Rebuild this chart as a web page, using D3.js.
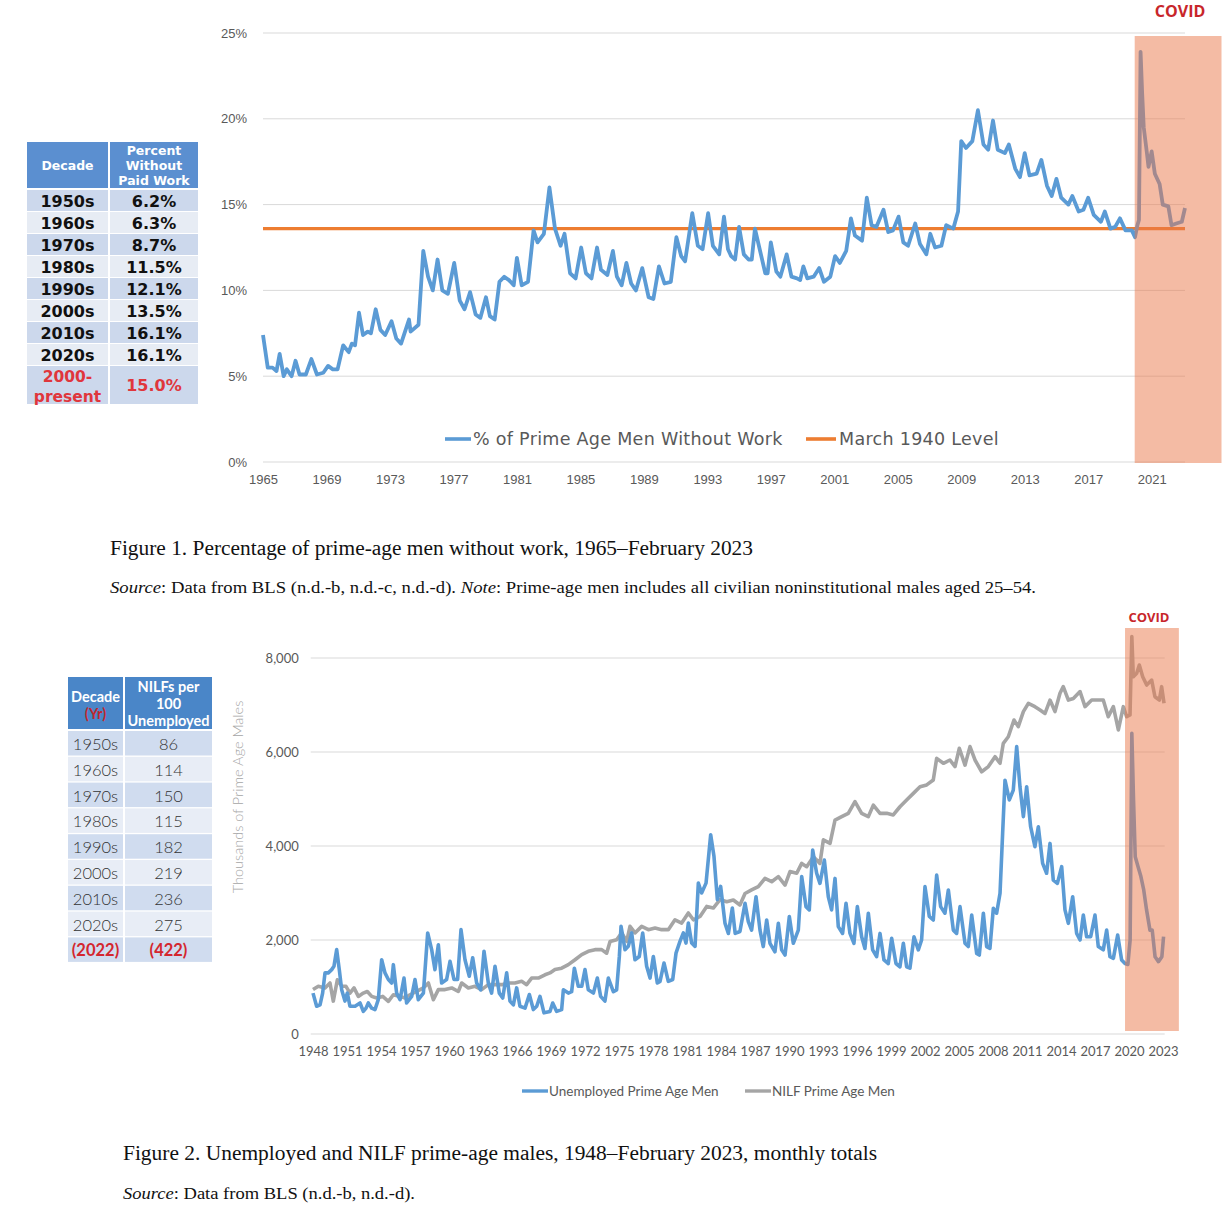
<!DOCTYPE html>
<html><head><meta charset="utf-8">
<script src="https://cdn.jsdelivr.net/npm/d3@7"></script>
<style>body{margin:0;background:#fff}svg{display:block}</style>
</head><body>
<svg id="c" width="1228" height="1216"></svg>
<script>
// ---------------- DATA ----------------
const table1Decades = ["1950s","1960s","1970s","1980s","1990s","2000s","2010s","2020s"];
const table1Percent = ["6.2%","6.3%","8.7%","11.5%","12.1%","13.5%","16.1%","16.1%"];
const table1TotalLabel = ["2000-","present"];
const table1TotalValue = "15.0%";

const table2Decades = ["1950s","1960s","1970s","1980s","1990s","2000s","2010s","2020s"];
const table2NilfPer100 = [86,114,150,115,182,219,236,275];
const table2YearLabel = "(2022)";
const table2YearValue = "(422)";

const march1940Level = 13.6;
const fig1YTicks = [0,5,10,15,20,25];
const fig1XTicks = [1965,1969,1973,1977,1981,1985,1989,1993,1997,2001,2005,2009,2013,2017,2021];
const fig2YTicks = [0,2000,4000,6000,8000];
const fig2XTicks = [1948,1951,1954,1957,1960,1963,1966,1969,1972,1975,1978,1981,1984,1987,1990,1993,1996,1999,2002,2005,2008,2011,2014,2017,2020,2023];
const covidSpan1 = [2019.93, 2025.4];
const covidSpan2 = [2019.65, 2024.4];

// [year, % of prime age men without work]
const pctWithoutWork = [
[1965.0,7.4],[1965.3,5.5],[1965.6,5.5],[1965.85,5.3],[1966.05,6.3],[1966.3,5.0],[1966.5,5.4],[1966.8,5.0],[1967.05,5.9],[1967.3,5.1],[1967.7,5.1],[1968.05,6.0],[1968.4,5.1],[1968.8,5.2],[1969.1,5.6],[1969.4,5.4],[1969.7,5.4],[1970.05,6.8],[1970.4,6.4],[1970.6,6.9],[1970.8,6.8],[1971.05,8.7],[1971.3,7.4],[1971.6,7.6],[1971.8,7.5],[1972.1,8.9],[1972.4,7.7],[1972.7,7.4],[1973.1,8.2],[1973.4,7.2],[1973.7,6.9],[1974.2,8.3],[1974.3,7.6],[1974.8,8.0],[1975.1,12.3],[1975.4,10.8],[1975.7,10.0],[1976.0,11.8],[1976.3,10.0],[1976.65,9.8],[1977.05,11.6],[1977.4,9.4],[1977.7,8.9],[1978.05,9.9],[1978.4,8.6],[1978.7,8.4],[1979.05,9.6],[1979.3,8.5],[1979.6,8.3],[1979.9,10.5],[1980.2,10.8],[1980.5,10.6],[1980.8,10.3],[1981.0,11.9],[1981.3,10.3],[1981.7,10.5],[1982.05,13.5],[1982.3,12.8],[1982.7,13.3],[1983.05,16.0],[1983.4,13.6],[1983.75,12.6],[1984.0,13.3],[1984.35,11.0],[1984.7,10.7],[1985.05,12.5],[1985.35,11.0],[1985.7,10.7],[1986.05,12.5],[1986.3,11.2],[1986.7,10.9],[1987.05,12.3],[1987.3,10.8],[1987.6,10.3],[1987.9,11.6],[1988.2,10.4],[1988.5,10.0],[1988.9,11.3],[1989.3,9.6],[1989.6,9.5],[1989.95,11.4],[1990.3,10.4],[1990.7,10.5],[1991.05,13.1],[1991.35,12.0],[1991.6,11.7],[1992.05,14.5],[1992.4,12.6],[1992.7,12.4],[1993.05,14.5],[1993.35,12.6],[1993.75,12.1],[1994.05,14.3],[1994.3,12.4],[1994.5,12.0],[1994.75,11.8],[1995.0,13.7],[1995.3,12.1],[1995.6,11.8],[1995.8,11.8],[1996.0,13.6],[1996.3,12.4],[1996.65,11.0],[1996.8,11.0],[1997.0,12.8],[1997.35,11.1],[1997.6,10.8],[1998.0,12.1],[1998.3,10.8],[1998.65,10.7],[1998.85,10.6],[1999.05,11.4],[1999.3,10.7],[1999.7,10.8],[2000.05,11.3],[2000.35,10.5],[2000.75,10.8],[2001.05,12.0],[2001.35,11.6],[2001.75,12.3],[2002.05,14.2],[2002.3,13.2],[2002.75,12.9],[2003.05,15.4],[2003.35,13.8],[2003.65,13.7],[2004.1,14.7],[2004.4,13.4],[2004.7,13.5],[2005.05,14.3],[2005.35,12.8],[2005.65,12.6],[2006.1,13.9],[2006.4,12.7],[2006.8,12.1],[2007.05,13.3],[2007.35,12.5],[2007.75,12.6],[2008.05,13.8],[2008.5,13.6],[2008.8,14.6],[2009.0,18.7],[2009.3,18.3],[2009.7,18.7],[2010.05,20.5],[2010.4,18.5],[2010.7,18.2],[2011.0,19.9],[2011.3,18.2],[2011.75,18.0],[2012.0,18.5],[2012.4,17.1],[2012.7,16.6],[2013.0,18.0],[2013.3,16.7],[2013.75,16.8],[2014.05,17.6],[2014.4,16.1],[2014.7,15.5],[2015.0,16.5],[2015.3,15.4],[2015.75,15.0],[2016.0,15.5],[2016.4,14.6],[2016.7,14.7],[2017.0,15.4],[2017.35,14.4],[2017.8,14.0],[2018.05,14.6],[2018.4,13.6],[2018.7,13.7],[2019.0,14.2],[2019.35,13.5],[2019.75,13.5],[2019.95,13.1],[2020.1,13.8],[2020.2,14.1],[2020.3,23.9],[2020.4,21.5],[2020.5,19.5],[2020.7,18.0],[2020.8,17.2],[2021.0,18.1],[2021.2,16.8],[2021.5,16.2],[2021.7,15.0],[2022.05,14.9],[2022.25,13.8],[2022.55,13.9],[2022.9,14.0],[2023.1,14.8]
];

// [year, thousands] unemployed prime age men
const unemployedMen = [
[1948.0,870],[1948.32,590],[1948.62,620],[1948.85,870],[1949.06,1300],[1949.35,1300],[1949.65,1370],[1949.85,1440],[1950.09,1795],[1950.32,1370],[1950.53,940],[1950.82,700],[1951.03,870],[1951.26,590],[1951.71,590],[1952.15,660],[1952.44,480],[1952.68,550],[1952.88,660],[1953.18,550],[1953.47,520],[1953.76,730],[1954.06,1580],[1954.35,1300],[1954.65,1160],[1954.94,1085],[1955.09,1475],[1955.38,870],[1955.68,730],[1956.03,1190],[1956.26,660],[1956.71,800],[1957.0,1160],[1957.29,730],[1957.74,870],[1958.12,2150],[1958.47,1795],[1958.76,1370],[1959.06,1900],[1959.35,1085],[1959.79,1160],[1960.09,1545],[1960.44,1160],[1960.76,1160],[1961.06,2220],[1961.41,1580],[1961.79,1230],[1962.09,1620],[1962.44,1085],[1962.79,940],[1963.09,1760],[1963.47,1085],[1963.76,870],[1964.06,1440],[1964.44,870],[1964.74,765],[1965.09,1300],[1965.38,700],[1965.68,620],[1965.97,980],[1966.26,590],[1966.71,550],[1967.09,840],[1967.44,520],[1967.74,590],[1968.03,800],[1968.38,450],[1968.91,480],[1969.15,660],[1969.5,480],[1969.94,520],[1970.09,940],[1970.53,870],[1970.82,900],[1971.06,1400],[1971.41,1015],[1971.71,1015],[1972.0,1370],[1972.29,940],[1972.74,870],[1973.09,1190],[1973.38,800],[1973.76,700],[1974.06,1190],[1974.5,900],[1974.79,940],[1975.03,1650],[1975.18,2290],[1975.53,1795],[1975.82,1865],[1976.12,2150],[1976.41,1580],[1976.79,1650],[1977.09,2150],[1977.44,1440],[1977.74,1190],[1978.03,1650],[1978.38,1085],[1978.62,1120],[1978.97,1510],[1979.35,1120],[1979.74,1160],[1980.03,1720],[1980.38,1970],[1980.68,2150],[1980.91,1935],[1981.12,2360],[1981.41,1935],[1981.71,1865],[1982.0,3210],[1982.29,3000],[1982.68,3210],[1983.09,4240],[1983.38,3780],[1983.68,2860],[1983.97,3140],[1984.35,2360],[1984.65,2140],[1985.0,2680],[1985.25,2140],[1985.67,2180],[1986.12,2780],[1986.41,2390],[1986.7,2210],[1987.09,2920],[1987.44,2210],[1987.73,1860],[1988.03,2425],[1988.32,1930],[1988.76,1750],[1989.06,2355],[1989.35,1790],[1989.65,1680],[1990.03,2500],[1990.38,1930],[1990.82,2210],[1991.12,3350],[1991.5,2710],[1991.79,2640],[1992.09,3915],[1992.44,3420],[1992.73,3205],[1993.12,3700],[1993.47,2920],[1993.76,2640],[1994.06,3310],[1994.35,2285],[1994.73,2140],[1995.03,2780],[1995.38,2140],[1995.73,1930],[1996.03,2710],[1996.41,2070],[1996.7,1820],[1997.0,2570],[1997.38,1790],[1997.73,1645],[1998.03,2140],[1998.38,1575],[1998.76,1500],[1999.06,2035],[1999.44,1500],[1999.79,1430],[2000.09,1930],[2000.38,1430],[2000.67,1400],[2001.03,2070],[2001.41,1790],[2001.7,2000],[2002.0,3135],[2002.38,2500],[2002.73,2425],[2003.03,3380],[2003.38,2710],[2003.76,2570],[2004.06,3065],[2004.5,2210],[2004.79,2140],[2005.09,2710],[2005.53,1930],[2005.82,1860],[2006.12,2530],[2006.56,1715],[2006.79,1680],[2007.15,2570],[2007.44,1860],[2007.73,1820],[2008.03,2675],[2008.32,2570],[2008.62,2995],[2008.85,4270],[2009.06,5400],[2009.44,4980],[2009.79,5190],[2010.09,6115],[2010.38,5260],[2010.68,4625],[2010.97,5260],[2011.32,4410],[2011.7,3985],[2012.0,4410],[2012.38,3630],[2012.73,3420],[2013.03,4055],[2013.32,3275],[2013.68,3205],[2014.06,3560],[2014.35,2640],[2014.65,2355],[2015.03,2920],[2015.38,2140],[2015.68,2000],[2015.97,2530],[2016.26,2070],[2016.62,2070],[2017.0,2530],[2017.29,1860],[2017.73,1790],[2018.03,2210],[2018.32,1645],[2018.62,1610],[2019.0,2105],[2019.35,1575],[2019.65,1500],[2019.9,1480],[2020.1,2000],[2020.25,6400],[2020.4,4980],[2020.55,3770],[2020.8,3560],[2021.05,3350],[2021.3,3065],[2021.55,2640],[2021.85,2210],[2022.05,2210],[2022.3,1645],[2022.6,1540],[2022.9,1645],[2023.05,2070]
];

// [year, thousands] NILF prime age men
const nilfMen = [
[1948.0,945],[1948.47,1015],[1949.06,980],[1949.5,1085],[1949.79,700],[1950.15,1155],[1950.53,1015],[1950.91,1015],[1951.26,870],[1951.62,980],[1952.0,800],[1952.44,870],[1952.79,905],[1953.18,800],[1953.62,765],[1954.15,800],[1954.65,695],[1955.09,835],[1955.68,800],[1956.12,765],[1956.56,835],[1957.15,905],[1957.74,980],[1958.18,1085],[1958.62,730],[1959.06,945],[1959.65,945],[1960.24,980],[1960.82,905],[1961.12,1085],[1961.71,980],[1962.29,1015],[1962.88,945],[1963.47,1050],[1964.06,1050],[1964.65,1050],[1965.24,1085],[1965.82,1085],[1966.41,1120],[1966.85,1050],[1967.29,1190],[1967.88,1190],[1968.47,1260],[1968.91,1300],[1969.35,1370],[1969.94,1400],[1970.53,1475],[1971.12,1580],[1971.71,1690],[1972.29,1760],[1972.88,1795],[1973.47,1795],[1973.91,1720],[1974.21,1970],[1974.79,2005],[1975.24,2150],[1975.68,1970],[1975.97,2290],[1976.41,2150],[1977.0,2290],[1977.59,2220],[1978.18,2255],[1978.76,2220],[1979.35,2220],[1979.94,2430],[1980.53,2360],[1981.12,2575],[1981.56,2430],[1982.15,2500],[1982.74,2715],[1983.32,2680],[1983.91,2860],[1984.5,2815],[1985.09,2850],[1985.67,2745],[1986.12,2990],[1986.7,3065],[1987.29,3135],[1987.88,3310],[1988.47,3240],[1989.06,3350],[1989.65,3170],[1990.09,3455],[1990.68,3420],[1991.12,3630],[1991.56,3560],[1992.15,3770],[1992.73,3630],[1993.03,4130],[1993.62,4055],[1994.06,4550],[1994.65,4625],[1995.23,4695],[1995.82,4945],[1996.41,4695],[1997.0,4625],[1997.44,4870],[1998.03,4695],[1998.62,4695],[1999.2,4660],[1999.79,4835],[2000.38,4980],[2000.97,5120],[2001.56,5260],[2002.15,5300],[2002.73,5405],[2003.03,5865],[2003.62,5760],[2004.2,5830],[2004.65,5690],[2005.03,6080],[2005.53,5720],[2005.97,6115],[2006.41,5830],[2007.0,5580],[2007.59,5690],[2008.18,5900],[2008.62,5760],[2008.91,6185],[2009.35,6325],[2009.85,6680],[2010.23,6540],[2010.68,6860],[2011.12,7035],[2011.7,6965],[2012.15,6895],[2012.59,6820],[2013.03,7105],[2013.47,6860],[2013.91,7250],[2014.2,7390],[2014.65,7105],[2015.09,7140],[2015.68,7285],[2016.12,6965],[2016.71,7105],[2017.29,7105],[2017.73,7105],[2018.17,6750],[2018.62,6965],[2019.06,6470],[2019.5,6965],[2019.79,6750],[2020.09,6790],[2020.25,8455],[2020.38,7600],[2020.68,7675],[2020.91,7850],[2021.21,7600],[2021.56,7425],[2022.0,7530],[2022.29,7175],[2022.68,7105],[2022.88,7390],[2023.09,7035]
];

// ---------------- DRAW ----------------
const svg = d3.select("#c");
const BLUE = "#5B9BD5", ORANGE = "#ED7D31", GREY = "#A5A5A5", GRID = "#D9D9D9";
const COVID_FILL = "#E97749", COVID_RED = "#C8262B";

// ===== Figure 1 =====
const x1 = d3.scaleLinear().domain([1965, 2023.1]).range([263, 1185]);
const y1 = d3.scaleLinear().domain([0, 25]).range([462, 33]);
const g1 = svg.append("g");

g1.selectAll("line.grid").data(fig1YTicks).join("line")
  .attr("x1", x1.range()[0]).attr("x2", x1.range()[1])
  .attr("y1", d => y1(d)).attr("y2", d => y1(d))
  .attr("stroke", GRID).attr("stroke-width", 1);

const ax1 = g1.append("g").attr("transform", `translate(0,${y1(0)})`)
  .call(d3.axisBottom(x1).tickValues(fig1XTicks).tickFormat(d3.format("d")).tickSize(0).tickPadding(13));
const ay1 = g1.append("g").attr("transform", `translate(${x1.range()[0]},0)`)
  .call(d3.axisLeft(y1).tickValues(fig1YTicks).tickFormat(d => d + "%").tickSize(0).tickPadding(16));
[ax1, ay1].forEach(a => {
  a.select(".domain").remove();
  a.selectAll("text").attr("font-family", "Liberation Sans, Arial, sans-serif").attr("font-size", 13).attr("fill", "#595959");
});

const line1 = d3.line().x(d => x1(d[0])).y(d => y1(d[1]));
g1.append("line")
  .attr("x1", x1.range()[0]).attr("x2", x1.range()[1])
  .attr("y1", y1(march1940Level)).attr("y2", y1(march1940Level))
  .attr("stroke", ORANGE).attr("stroke-width", 3.4);
g1.append("path").datum(pctWithoutWork).attr("d", line1)
  .attr("fill", "none").attr("stroke", BLUE).attr("stroke-width", 3.8).attr("stroke-linejoin", "round");

// COVID overlay
g1.append("rect")
  .attr("x", x1(covidSpan1[0])).attr("width", x1(covidSpan1[1]) - x1(covidSpan1[0]))
  .attr("y", y1(25) + 3).attr("height", y1(0) - y1(25) - 2)
  .attr("fill", COVID_FILL).attr("fill-opacity", 0.5);
g1.append("text").text("COVID")
  .attr("x", (x1(covidSpan1[0]) + x1(covidSpan1[1])) / 2 + 2).attr("y", 17)
  .attr("text-anchor", "middle").attr("font-family", "Open Sans, sans-serif")
  .attr("font-weight", 700).attr("font-size", 16).attr("fill", COVID_RED);

// legend 1
const leg1 = g1.append("g").attr("font-family", "DejaVu Sans, sans-serif").attr("font-size", 17.5)
  .attr("letter-spacing", 0.3).attr("fill", "#595959");
leg1.append("line").attr("x1", 445).attr("x2", 471).attr("y1", 439).attr("y2", 439).attr("stroke", BLUE).attr("stroke-width", 3.6);
leg1.append("text").attr("x", 473).attr("y", 445).text("% of Prime Age Men Without Work");
leg1.append("line").attr("x1", 806).attr("x2", 836).attr("y1", 439).attr("y2", 439).attr("stroke", ORANGE).attr("stroke-width", 3.6);
leg1.append("text").attr("x", 839).attr("y", 445).text("March 1940 Level");

// ===== Table 1 =====
const t1 = svg.append("g").attr("font-family", "DejaVu Sans, sans-serif");
const T1 = {x0: 27, c1w: 81, c2x: 110, c2w: 88, hy: 142, hh: 46, ry: 190, rp: 22, rh: 21};
const HEAD_BLUE = "#5B8FD0", ROW_D = "#CCD8EC", ROW_L = "#E7ECF4";
t1.append("rect").attr("x", T1.x0).attr("y", T1.hy).attr("width", T1.c1w).attr("height", T1.hh).attr("fill", HEAD_BLUE);
t1.append("rect").attr("x", T1.c2x).attr("y", T1.hy).attr("width", T1.c2w).attr("height", T1.hh).attr("fill", HEAD_BLUE);
t1.append("text").attr("x", T1.x0 + T1.c1w / 2).attr("y", T1.hy + 28).attr("text-anchor", "middle")
  .attr("fill", "#fff").attr("font-weight", 700).attr("font-size", 12.5).text("Decade");
["Percent","Without","Paid Work"].forEach((s, i) => {
  t1.append("text").attr("x", T1.c2x + T1.c2w / 2).attr("y", T1.hy + 13 + i * 15).attr("text-anchor", "middle")
    .attr("fill", "#fff").attr("font-weight", 700).attr("font-size", 12.5).text(s);
});
table1Decades.forEach((d, i) => {
  const y = T1.ry + i * T1.rp, fill = i % 2 === 0 ? ROW_D : ROW_L;
  t1.append("rect").attr("x", T1.x0).attr("y", y).attr("width", T1.c1w).attr("height", T1.rh).attr("fill", fill);
  t1.append("rect").attr("x", T1.c2x).attr("y", y).attr("width", T1.c2w).attr("height", T1.rh).attr("fill", fill);
  t1.append("text").attr("x", T1.x0 + T1.c1w / 2).attr("y", y + 16.5).attr("text-anchor", "middle")
    .attr("font-weight", 700).attr("font-size", 16).attr("fill", "#111").text(d);
  t1.append("text").attr("x", T1.c2x + T1.c2w / 2).attr("y", y + 16.5).attr("text-anchor", "middle")
    .attr("font-weight", 700).attr("font-size", 16).attr("fill", "#111").text(table1Percent[i]);
});
{
  const y = T1.ry + table1Decades.length * T1.rp;
  t1.append("rect").attr("x", T1.x0).attr("y", y).attr("width", T1.c1w).attr("height", 38).attr("fill", ROW_D);
  t1.append("rect").attr("x", T1.c2x).attr("y", y).attr("width", T1.c2w).attr("height", 38).attr("fill", ROW_D);
  table1TotalLabel.forEach((s, i) => {
    t1.append("text").attr("x", T1.x0 + T1.c1w / 2).attr("y", y + 16 + i * 20).attr("text-anchor", "middle")
      .attr("font-weight", 700).attr("font-size", 15.5).attr("fill", "#E0363C").text(s);
  });
  t1.append("text").attr("x", T1.c2x + T1.c2w / 2).attr("y", y + 25).attr("text-anchor", "middle")
    .attr("font-weight", 700).attr("font-size", 16).attr("fill", "#E0363C").text(table1TotalValue);
}

// ===== Captions 1 =====
const serif = "Liberation Serif, Times New Roman, serif";
svg.append("text").attr("x", 110).attr("y", 555).attr("font-family", serif).attr("font-size", 20).attr("fill", "#111")
  .attr("textLength", 643).attr("lengthAdjust", "spacingAndGlyphs")
  .text("Figure 1.  Percentage of prime-age men without work, 1965\u2013February 2023");
{
  const t = svg.append("text").attr("x", 110).attr("y", 593).attr("font-family", serif).attr("font-size", 17).attr("fill", "#111")
    .attr("textLength", 926).attr("lengthAdjust", "spacingAndGlyphs");
  t.append("tspan").attr("font-style", "italic").text("Source");
  t.append("tspan").text(": Data from BLS (n.d.-b, n.d.-c, n.d.-d). ");
  t.append("tspan").attr("font-style", "italic").text("Note");
  t.append("tspan").text(": Prime-age men includes all civilian noninstitutional males aged 25\u201354.");
}

// ===== Figure 2 =====
const x2 = d3.scaleLinear().domain([1948, 2023]).range([313, 1163]);
const y2 = d3.scaleLinear().domain([0, 8000]).range([1034, 658]);
const g2 = svg.append("g");
g2.selectAll("line.grid").data(fig2YTicks).join("line")
  .attr("x1", x2(1947.8)).attr("x2", x2(2023.15))
  .attr("y1", d => y2(d)).attr("y2", d => y2(d))
  .attr("stroke", GRID).attr("stroke-width", 1);
const ax2 = g2.append("g").attr("transform", `translate(0,${y2(0)})`)
  .call(d3.axisBottom(x2).tickValues(fig2XTicks).tickFormat(d3.format("d")).tickSize(0).tickPadding(13));
const ay2 = g2.append("g").attr("transform", `translate(${x2(1947.8)},0)`)
  .call(d3.axisLeft(y2).tickValues(fig2YTicks).tickFormat(d3.format(",")).tickSize(0).tickPadding(12));
[ax2, ay2].forEach(a => {
  a.select(".domain").remove();
  a.selectAll("text").attr("font-family", "Lato, sans-serif").attr("font-size", 13).attr("fill", "#595959");
});
g2.append("text").attr("transform", `translate(243,797) rotate(-90)`)
  .attr("text-anchor", "middle").attr("font-family", "Lato, sans-serif").attr("font-weight", 300)
  .attr("font-size", 14.5).attr("fill", "#A6A6A6").text("Thousands of Prime Age Males");

const line2 = d3.line().x(d => x2(d[0])).y(d => y2(d[1]));
g2.append("path").datum(nilfMen).attr("d", line2)
  .attr("fill", "none").attr("stroke", GREY).attr("stroke-width", 3.6).attr("stroke-linejoin", "round");
g2.append("path").datum(unemployedMen).attr("d", line2)
  .attr("fill", "none").attr("stroke", BLUE).attr("stroke-width", 3.6).attr("stroke-linejoin", "round");

g2.append("rect")
  .attr("x", x2(covidSpan2[0])).attr("width", x2(covidSpan2[1]) - x2(covidSpan2[0]))
  .attr("y", 628).attr("height", y2(0) - 628 - 3)
  .attr("fill", COVID_FILL).attr("fill-opacity", 0.5);
g2.append("text").text("COVID")
  .attr("x", (x2(covidSpan2[0]) + x2(covidSpan2[1])) / 2 - 3).attr("y", 622)
  .attr("text-anchor", "middle").attr("font-family", "Open Sans, sans-serif")
  .attr("font-weight", 700).attr("font-size", 13).attr("fill", COVID_RED);

const leg2 = g2.append("g").attr("font-family", "Lato, sans-serif").attr("font-size", 13.5).attr("fill", "#595959");
leg2.append("line").attr("x1", 522).attr("x2", 548).attr("y1", 1091).attr("y2", 1091).attr("stroke", BLUE).attr("stroke-width", 3.4);
leg2.append("text").attr("x", 549).attr("y", 1096).text("Unemployed Prime Age Men");
leg2.append("line").attr("x1", 745).attr("x2", 771).attr("y1", 1091).attr("y2", 1091).attr("stroke", GREY).attr("stroke-width", 3.4);
leg2.append("text").attr("x", 772).attr("y", 1096).text("NILF Prime Age Men");

// ===== Table 2 =====
const t2 = svg.append("g").attr("font-family", "Lato, sans-serif");
const T2 = {x0: 68, c1w: 55, c2x: 125, c2w: 87, hy: 677, hh: 52, ry: 731, rp: 25.8, rh: 24.5};
const HEAD2 = "#4A86C8", R2D = "#D0DCEF", R2L = "#E8EDF6";
t2.append("rect").attr("x", T2.x0).attr("y", T2.hy).attr("width", T2.c1w).attr("height", T2.hh).attr("fill", HEAD2);
t2.append("rect").attr("x", T2.c2x).attr("y", T2.hy).attr("width", T2.c2w).attr("height", T2.hh).attr("fill", HEAD2);
t2.append("text").attr("x", T2.x0 + T2.c1w / 2).attr("y", T2.hy + 25).attr("text-anchor", "middle")
  .attr("fill", "#fff").attr("font-weight", 700).attr("font-size", 14.5).text("Decade");
t2.append("text").attr("x", T2.x0 + T2.c1w / 2).attr("y", T2.hy + 42).attr("text-anchor", "middle")
  .attr("fill", "#C0282D").attr("font-weight", 700).attr("font-size", 14.5).text("(Yr)");
["NILFs per","100","Unemployed"].forEach((s, i) => {
  t2.append("text").attr("x", T2.c2x + T2.c2w / 2).attr("y", T2.hy + 15 + i * 17).attr("text-anchor", "middle")
    .attr("fill", "#fff").attr("font-weight", 700).attr("font-size", 14.5).text(s);
});
table2Decades.forEach((d, i) => {
  const y = T2.ry + i * T2.rp, fill = i % 2 === 0 ? R2D : R2L;
  t2.append("rect").attr("x", T2.x0).attr("y", y).attr("width", T2.c1w).attr("height", T2.rh).attr("fill", fill);
  t2.append("rect").attr("x", T2.c2x).attr("y", y).attr("width", T2.c2w).attr("height", T2.rh).attr("fill", fill);
  t2.append("text").attr("x", T2.x0 + T2.c1w / 2).attr("y", y + 19).attr("text-anchor", "middle")
    .attr("font-weight", 300).attr("font-size", 16.5).attr("fill", "#333").text(d);
  t2.append("text").attr("x", T2.c2x + T2.c2w / 2).attr("y", y + 19).attr("text-anchor", "middle")
    .attr("font-weight", 300).attr("font-size", 16.5).attr("fill", "#333").text(table2NilfPer100[i]);
});
{
  const y = T2.ry + table2Decades.length * T2.rp;
  t2.append("rect").attr("x", T2.x0).attr("y", y).attr("width", T2.c1w).attr("height", T2.rh).attr("fill", R2D);
  t2.append("rect").attr("x", T2.c2x).attr("y", y).attr("width", T2.c2w).attr("height", T2.rh).attr("fill", R2D);
  t2.append("text").attr("x", T2.x0 + T2.c1w / 2).attr("y", y + 19).attr("text-anchor", "middle")
    .attr("font-weight", 700).attr("font-size", 16.5).attr("fill", "#D4262E").text(table2YearLabel);
  t2.append("text").attr("x", T2.c2x + T2.c2w / 2).attr("y", y + 19).attr("text-anchor", "middle")
    .attr("font-weight", 700).attr("font-size", 16.5).attr("fill", "#D4262E").text(table2YearValue);
}

// ===== Captions 2 =====
svg.append("text").attr("x", 123).attr("y", 1160).attr("font-family", serif).attr("font-size", 20).attr("fill", "#111")
  .attr("textLength", 754).attr("lengthAdjust", "spacingAndGlyphs")
  .text("Figure 2.  Unemployed and NILF prime-age males, 1948\u2013February 2023, monthly totals");
{
  const t = svg.append("text").attr("x", 123).attr("y", 1199).attr("font-family", serif).attr("font-size", 17).attr("fill", "#111")
    .attr("textLength", 292).attr("lengthAdjust", "spacingAndGlyphs");
  t.append("tspan").attr("font-style", "italic").text("Source");
  t.append("tspan").text(": Data from BLS (n.d.-b, n.d.-d).");
}
</script>
</body></html>
